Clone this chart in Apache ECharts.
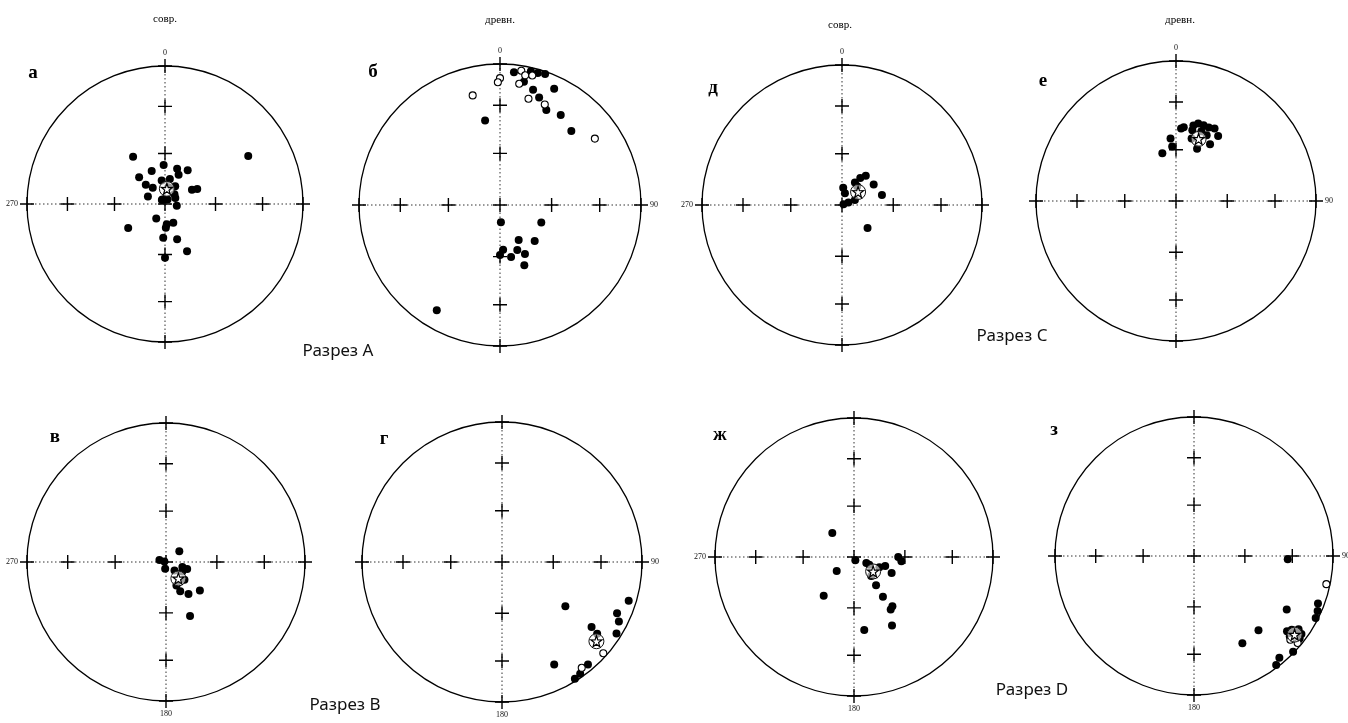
<!DOCTYPE html>
<html>
<head>
<meta charset="utf-8">
<script src="https://cdn.jsdelivr.net/npm/echarts@6/dist/echarts.min.js"></script>
<style>
  html, body { margin: 0; padding: 0; background: #fff; }
  #chart { width: 1348px; height: 723px; }
</style>
</head>
<body>
<div id="chart"></div>
<script>
// Palaeomagnetic directions, [declination, inclination] in degrees.
// Negative inclination = upper hemisphere (open symbols).

// Разрез A
const siteA_present = [
  [326, 56], [60, 31], [237, 64], [155, 59], [161, 68], [183, 70], [211, 80], [175, 78],
  [156, 78], [178, 76], [180, 58], [358, 67], [338, 69], [316, 68], [19, 68], [34, 66],
  [25, 71], [11, 75], [352, 76], [315, 74], [323, 78], [294, 79], [322, 87], [30, 87],
  [44, 82], [30, 78], [11, 80], [62, 72], [65, 69], [98, 83], [60, 83], [330, 87]
];
const siteA_presentMean = [7, 81];
const siteA_ancient = [
  [6, 6], [13, 3], [16, 3], [19, 2], [11, 12], [16, 16], [25, 10], [20, 20], [26, 26],
  [34, 24], [44, 28], [350, 39], [177, 80], [113, 64], [152, 67], [136, 61], [176, 64],
  [180, 61], [159, 62], [168, 59], [153, 58], [158, 52], [211, 14],
  [9, -4], [11, -7], [14, -6], [0, -11], [359, -14], [9, -14], [346, -21], [15, -23],
  [24, -23], [55, -19]
];
const siteA_ancientMean = null;

// Разрез B
const siteB_present = [
  [51, 80], [287, 86], [290, 89], [187, 86], [135, 83], [107, 80], [108, 77], [120, 79],
  [134, 75], [156, 75], [154, 71], [145, 67], [130, 64], [156, 55]
];
const siteB_presentMean = [143, 78];
const siteB_ancient = [
  [125, 44], [107, 6], [114, 11], [117, 7], [122, 4], [126, 22], [127, 16], [153, 19],
  [140, 5], [145, 3], [148, 2], [132, -3], [143, -6]
];
const siteB_ancientMean = [130, 13];

// Разрез C
const siteC_present = [
  [4, 80], [14, 83], [30, 75], [34, 71], [39, 68], [57, 68], [76, 66], [68, 86],
  [69, 82], [60, 89], [132, 70], [39, 76]
];
const siteC_presentMean = [51, 78];
const siteC_ancient = [
  [344, 61], [355, 53], [356, 58], [4, 47], [6, 46], [13, 44], [16, 42], [20, 42],
  [24, 42], [28, 41], [33, 44], [31, 51], [22, 57], [13, 47], [20, 46], [25, 47], [14, 52]
];
const siteC_ancientMean = [20, 51];

// Разрез D
const siteD_present = [
  [318, 71], [231, 77], [218, 61], [157, 88], [116, 82], [117, 80], [112, 74], [106, 71],
  [113, 66], [90, 64], [95, 62], [142, 69], [144, 61], [142, 53], [145, 52], [151, 43],
  [172, 46], [138, 75]
];
const siteD_presentMean = [127, 76];
const siteD_ancient = [
  [92, 33], [120, 24], [139, 30], [151, 29], [111, 5], [114, 3], [117, 2], [140, 5],
  [143, 2], [134, 1], [129, 15], [127, 13], [125, 9], [126, 5], [130, 11], [128, 4],
  [130, -3], [131, -9], [102, -3]
];
const siteD_ancientMean = [128, 9];

// Graticule: crosses at these inclinations along the four cardinal azimuths
const crossInclinations = [0, 30, 60];
const crossAzimuths = [0, 90, 180, 270];
const azimuthTicks = { 0: '0', 90: '90', 180: '180', 270: '270' };

// Stereonet layout
const nets = [
  { letter: 'а', dirs: siteA_present, mean: siteA_presentMean, center: [165, 204], R: 138, labels: [0, 270], letterPos: [33, 73] },
  { letter: 'б', dirs: siteA_ancient, mean: siteA_ancientMean, center: [500, 205], R: 141, labels: [0, 90], letterPos: [373, 72] },
  { letter: 'д', dirs: siteC_present, mean: siteC_presentMean, center: [842, 205], R: 140, labels: [0, 270], letterPos: [713, 88] },
  { letter: 'е', dirs: siteC_ancient, mean: siteC_ancientMean, center: [1176, 201], R: 140, labels: [0, 90], letterPos: [1043, 81] },
  { letter: 'в', dirs: siteB_present, mean: siteB_presentMean, center: [166, 562], R: 139, labels: [270, 180], letterPos: [55, 437] },
  { letter: 'г', dirs: siteB_ancient, mean: siteB_ancientMean, center: [502, 562], R: 140, labels: [90, 180], letterPos: [384, 439] },
  { letter: 'ж', dirs: siteD_present, mean: siteD_presentMean, center: [854, 557], R: 139, labels: [270, 180], letterPos: [720, 435] },
  { letter: 'з', dirs: siteD_ancient, mean: siteD_ancientMean, center: [1194, 556], R: 139, labels: [90, 180], letterPos: [1054, 430] }
];

// Equal-area (Schmidt) projection: radius as fraction of the primitive circle
function project(d) {
  const r = Math.sqrt(1 - Math.sin(Math.abs(d[1]) * Math.PI / 180));
  return [r, d[0]];
}

const crossPath = 'path://M0,5L10,5M5,0L5,10';
const starPath = 'path://M50,0L61.8,35.1L97.6,34.5L69,56.1L79.4,90.5L50,69.9L20.6,90.5L31,56.1L2.4,34.5L38.2,35.1Z';

const polar = [], angleAxis = [], radiusAxis = [], series = [];

nets.forEach((n, i) => {
  polar.push({ center: n.center, radius: n.R });
  angleAxis.push({
    polarIndex: i, type: 'value', min: 0, max: 360, interval: 90,
    startAngle: 90, clockwise: true,
    axisLine: { show: true, lineStyle: { color: '#000', width: 1.3 } },
    axisTick: { show: false },
    splitLine: { show: true, lineStyle: { color: '#333', width: 1, type: [1.5, 2.5] } },
    axisLabel: {
      show: true, margin: 9, fontSize: 8, color: '#111', fontFamily: 'Liberation Serif',
      formatter: v => (n.labels.indexOf(v) >= 0 ? azimuthTicks[v] : '')
    }
  });
  radiusAxis.push({
    polarIndex: i, type: 'value', min: 0, max: 1,
    axisLine: { show: false }, axisTick: { show: false },
    axisLabel: { show: false }, splitLine: { show: false }
  });

  const crosses = [[0, 0]];
  crossInclinations.forEach(inc => crossAzimuths.forEach(az => crosses.push(project([az, inc]))));
  series.push({
    type: 'scatter', coordinateSystem: 'polar', polarIndex: i, silent: true, z: 2,
    symbol: crossPath, symbolSize: 14, data: crosses,
    itemStyle: { color: 'rgba(0,0,0,0)', borderColor: '#000', borderWidth: 1.4, opacity: 1 }
  });

  series.push({
    type: 'scatter', coordinateSystem: 'polar', polarIndex: i, silent: true, z: 3,
    symbol: 'circle', symbolSize: 8,
    data: n.dirs.filter(d => d[1] >= 0).map(project),
    itemStyle: { color: '#000', opacity: 1 }
  });
  series.push({
    type: 'scatter', coordinateSystem: 'polar', polarIndex: i, silent: true, z: 4,
    symbol: 'circle', symbolSize: 7,
    data: n.dirs.filter(d => d[1] < 0).map(project),
    itemStyle: { color: '#fff', borderColor: '#000', borderWidth: 1.1, opacity: 1 }
  });

  if (n.mean) {
    series.push({
      type: 'scatter', coordinateSystem: 'polar', polarIndex: i, silent: true, z: 5,
      symbol: 'circle', symbolSize: 15, data: [project(n.mean)],
      itemStyle: { color: 'rgba(255,255,255,0.6)', borderColor: '#111', borderWidth: 1, opacity: 1 }
    });
    series.push({
      type: 'scatter', coordinateSystem: 'polar', polarIndex: i, silent: true, z: 6,
      symbol: starPath, symbolSize: 11, data: [project(n.mean)],
      itemStyle: { color: '#fff', borderColor: '#000', borderWidth: 1.2, opacity: 1 }
    });
  }
});

const serifText = (x, y, text, font, extra) => Object.assign({
  type: 'text', x, y,
  style: { text, font, fill: '#000', textAlign: 'center', textVerticalAlign: 'middle' }
}, extra || {});

const graphic = [];
nets.forEach(n => graphic.push(serifText(n.letterPos[0], n.letterPos[1], n.letter, 'bold 19px "Liberation Serif", serif')));
[['совр.', 165, 19], ['древн.', 500, 20], ['совр.', 840, 25], ['древн.', 1180, 20]].forEach(t =>
  graphic.push(serifText(t[1], t[2], t[0], '11px "Liberation Serif", serif')));
[['Разрез A', 338, 351], ['Разрез C', 1012, 336], ['Разрез B', 345, 705], ['Разрез D', 1032, 690]].forEach(t =>
  graphic.push({
    type: 'text', x: t[1], y: t[2],
    style: { text: t[0], font: '17px "Noto Sans", sans-serif', fill: '#111', textAlign: 'center', textVerticalAlign: 'middle' }
  }));

const chart = echarts.init(document.getElementById('chart'), null, { renderer: 'canvas' });
chart.setOption({
  backgroundColor: '#fff',
  animation: false,
  polar, angleAxis, radiusAxis, series, graphic
});
</script>
</body>
</html>
